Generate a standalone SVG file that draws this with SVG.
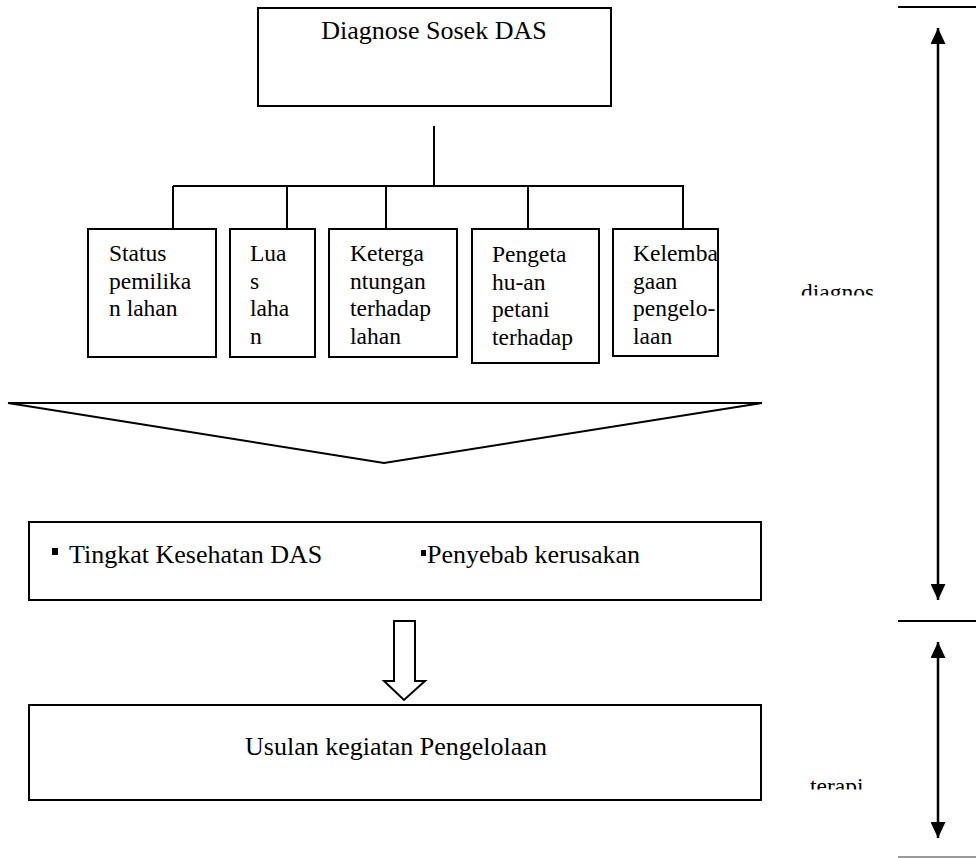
<svg xmlns="http://www.w3.org/2000/svg" width="976" height="858" viewBox="0 0 976 858">
<style>
.box{fill:#fff;stroke:#000;stroke-width:2}
.ln{fill:none;stroke:#000;stroke-width:2}
.s{font-size:23.5px}
.b{font-size:26px}
</style>
<defs>
<marker id="ah" viewBox="0 0 16 15" refX="16" refY="7.5" markerWidth="16" markerHeight="15" markerUnits="userSpaceOnUse" orient="auto-start-reverse">
<path d="M0,0 L16,7.5 L0,15 Z" fill="#000"/>
</marker>
<clipPath id="c1"><rect x="780" y="260" width="120" height="35.5"/></clipPath>
<clipPath id="c2"><rect x="790" y="760" width="120" height="29.5"/></clipPath>
</defs>
<g id="connectors">
<line class="ln" x1="434" y1="126" x2="434" y2="186"/>
<line class="ln" x1="173" y1="186" x2="684" y2="186"/>
<line class="ln" x1="173" y1="186" x2="173" y2="229"/>
<line class="ln" x1="287" y1="186" x2="287" y2="229"/>
<line class="ln" x1="386" y1="186" x2="386" y2="229"/>
<line class="ln" x1="528" y1="186" x2="528" y2="229"/>
<line class="ln" x1="683" y1="186" x2="683" y2="229"/>
<polygon class="box" points="8,403 762,403 384,463"/>
<polygon class="box" stroke-width="1.5" points="394,621 415,621 415,681 425,681 404,700 384,681 394,681"/>
<line x1="938" y1="28" x2="938" y2="600" stroke="#000" stroke-width="2.5" marker-start="url(#ah)" marker-end="url(#ah)"/>
<line x1="938" y1="642" x2="938" y2="838" stroke="#000" stroke-width="2.5" marker-start="url(#ah)" marker-end="url(#ah)"/>
<line class="ln" x1="898" y1="7" x2="976" y2="7"/>
<line class="ln" x1="898" y1="621" x2="976" y2="621"/>
<line x1="898" y1="857" x2="976" y2="857" stroke="#999" stroke-width="2"/>
</g>
<g font-family="'Liberation Serif', 'Times New Roman', serif" fill="#000">
<g id="n-diagnose">
<rect class="box" x="258" y="8" width="353" height="98"/>
<text class="b" x="434" y="39" text-anchor="middle">Diagnose Sosek DAS</text>
</g>
<g id="n-status">
<rect class="box" x="88" y="229" width="128" height="128"/>
<text class="s" x="109" y="261">Status</text>
<text class="s" x="109" y="288.5">pemilika</text>
<text class="s" x="109" y="316">n lahan</text>
</g>
<g id="n-luas">
<rect class="box" x="230" y="229" width="85" height="128"/>
<text class="s" x="250" y="261">Lua</text>
<text class="s" x="250" y="288.5">s</text>
<text class="s" x="250" y="316">laha</text>
<text class="s" x="250" y="343.5">n</text>
</g>
<g id="n-ketergantungan">
<rect class="box" x="329" y="229" width="128" height="128"/>
<text class="s" x="350" y="261">Keterga</text>
<text class="s" x="350" y="288.5">ntungan</text>
<text class="s" x="350" y="316">terhadap</text>
<text class="s" x="350" y="343.5">lahan</text>
</g>
<g id="n-pengetahuan">
<rect class="box" x="472" y="229" width="127" height="134"/>
<text class="s" x="492" y="262">Pengeta</text>
<text class="s" x="492" y="289.5">hu-an</text>
<text class="s" x="492" y="317">petani</text>
<text class="s" x="492" y="344.5">terhadap</text>
</g>
<g id="n-kelembagaan">
<rect class="box" x="613" y="229" width="105" height="127"/>
<text class="s" x="633" y="261">Kelemba</text>
<text class="s" x="633" y="288.5">gaan</text>
<text class="s" x="633" y="316">pengelo-</text>
<text class="s" x="633" y="343.5">laan</text>
</g>
<g id="n-hasil">
<rect class="box" x="29" y="522" width="732" height="78"/>
<rect x="52" y="548" width="6" height="7" fill="#000"/>
<text class="b" x="69" y="563">Tingkat Kesehatan DAS</text>
<rect x="421" y="550" width="5" height="6" fill="#000"/>
<text class="b" x="427" y="563">Penyebab kerusakan</text>
</g>
<g id="n-usulan">
<rect class="box" x="29" y="705" width="732" height="95"/>
<text class="b" x="396" y="755" text-anchor="middle">Usulan kegiatan Pengelolaan</text>
</g>
<g id="labels">
<text class="s" x="801" y="300" clip-path="url(#c1)">diagnos</text>
<text class="s" x="810" y="794" clip-path="url(#c2)">terapi</text>
</g>
</g>
</svg>
